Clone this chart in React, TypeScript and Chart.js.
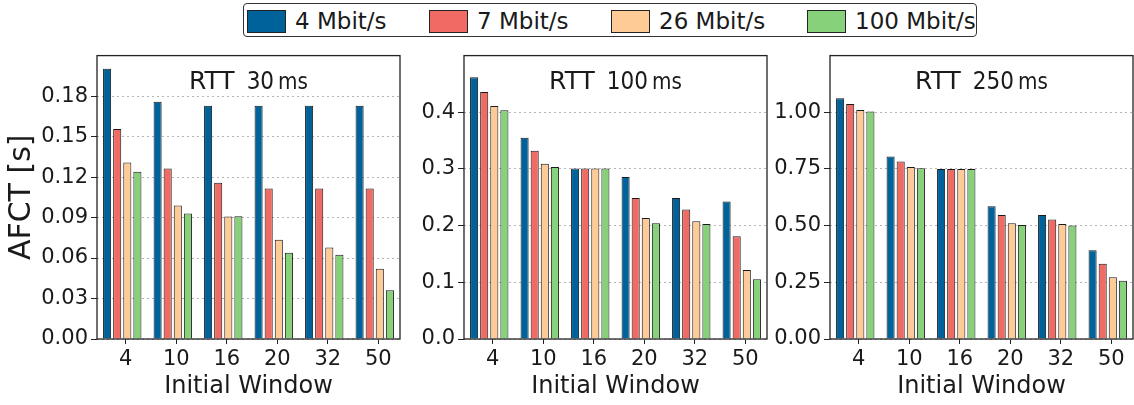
import React, { useEffect, useRef } from "react";
import { Chart, registerables } from "chart.js";

Chart.register(...registerables);
Chart.defaults.font.family = "'DejaVu Sans', sans-serif";

// ---------- data ----------
const categories = ["4", "10", "16", "20", "32", "50"];
const seriesLabels = ["4 Mbit/s", "7 Mbit/s", "26 Mbit/s", "100 Mbit/s"];
const seriesColors = ["#00629b", "#f06b64", "#fecb96", "#88d17b"];
const rttLabels = ["30", "100", "250"];

const rtt30Mbit4 = [0.2003, 0.1758, 0.1729, 0.1729, 0.1729, 0.1729];
const rtt30Mbit7 = [0.1557, 0.1264, 0.1157, 0.1116, 0.1116, 0.1116];
const rtt30Mbit26 = [0.1307, 0.099, 0.0908, 0.0736, 0.0678, 0.0521];
const rtt30Mbit100 = [0.124, 0.093, 0.091, 0.0639, 0.0625, 0.0361];

const rtt100Mbit4 = [0.462, 0.355, 0.301, 0.2856, 0.2488, 0.2424];
const rtt100Mbit7 = [0.4357, 0.3322, 0.301, 0.2488, 0.2286, 0.1815];
const rtt100Mbit26 = [0.411, 0.3092, 0.301, 0.2136, 0.2079, 0.1217];
const rtt100Mbit100 = [0.4034, 0.3034, 0.301, 0.204, 0.2028, 0.1056];

const rtt250Mbit4 = [1.062, 0.805, 0.75, 0.585, 0.547, 0.391];
const rtt250Mbit7 = [1.036, 0.783, 0.75, 0.547, 0.527, 0.332];
const rtt250Mbit26 = [1.01, 0.759, 0.75, 0.511, 0.507, 0.272];
const rtt250Mbit100 = [1.003, 0.753, 0.75, 0.503, 0.501, 0.257];

const yTicks30 = [0, 0.03, 0.06, 0.09, 0.12, 0.15, 0.18];
const yTicks100 = [0, 0.1, 0.2, 0.3, 0.4];
const yTicks250 = [0, 0.25, 0.5, 0.75, 1.0];
const yMaxes = [0.21, 0.5, 1.25];
const yDecimals = [2, 1, 2];

const panelSeries = [
  [rtt30Mbit4, rtt30Mbit7, rtt30Mbit26, rtt30Mbit100],
  [rtt100Mbit4, rtt100Mbit7, rtt100Mbit26, rtt100Mbit100],
  [rtt250Mbit4, rtt250Mbit7, rtt250Mbit26, rtt250Mbit100],
];
const panelTicks = [yTicks30, yTicks100, yTicks250];

// ---------- layout ----------
const layouts = [
  { left: 0, width: 410, yWidth: 97, padRight: 10 },
  { left: 410, width: 360, yWidth: 54, padRight: 3 },
  { left: 770, width: 364, yWidth: 60, padRight: 1 },
];
const tickShift = 0.07;
const ink = "#1a1a1a";

const framePlugin = {
  id: "frame",
  afterDatasetsDraw(chart: any) {
    const { ctx, chartArea: a } = chart;
    ctx.save();
    ctx.strokeStyle = "#222";
    ctx.lineWidth = 1.3;
    ctx.strokeRect(a.left, a.top, a.right - a.left, a.bottom - a.top);
    ctx.restore();
  },
};

function makeTitlePlugin(rtt: string) {
  return {
    id: "rttTitle",
    afterDraw(chart: any) {
      const { ctx, chartArea: a } = chart;
      const parts = [
        { t: "RTT", f: "25px 'DejaVu Sans'", sx: 1, gap: 12 },
        { t: rtt, f: "24px 'DejaVu Sans'", sx: 0.9, gap: 4 },
        { t: "ms", f: "23px 'DejaVu Sans'", sx: 0.87, gap: 0 },
      ];
      ctx.save();
      let total = 0;
      const widths = parts.map((p) => {
        ctx.font = p.f;
        const w = ctx.measureText(p.t).width * p.sx;
        total += w + p.gap;
        return w;
      });
      let x = (a.left + a.right) / 2 - total / 2;
      const y = a.top + 33;
      ctx.fillStyle = ink;
      ctx.textBaseline = "alphabetic";
      ctx.textAlign = "left";
      parts.forEach((p, i) => {
        ctx.font = p.f;
        ctx.save();
        ctx.translate(x, y);
        ctx.scale(p.sx, 1);
        ctx.fillText(p.t, 0, 0);
        ctx.restore();
        x += widths[i] + p.gap;
      });
      ctx.restore();
    },
  };
}

function Panel({ idx }: { idx: number }) {
  const ref = useRef<HTMLCanvasElement>(null);
  const lay = layouts[idx];
  useEffect(() => {
    const series = panelSeries[idx];
    const yt = panelTicks[idx];
    const dec = yDecimals[idx];
    const chart = new Chart(ref.current as HTMLCanvasElement, {
      type: "bar",
      data: {
        labels: categories,
        datasets: seriesLabels.map((l, s) => ({
          label: l,
          data: series[s],
          backgroundColor: seriesColors[s],
          borderColor: ink,
          borderWidth: 1,
          barPercentage: 0.8,
          categoryPercentage: 0.8,
        })),
      },
      options: {
        animation: false,
        responsive: false,
        devicePixelRatio: 1,
        layout: { padding: { left: 0, right: lay.padRight, top: 10, bottom: 0 } },
        plugins: {
          legend: { display: false },
          tooltip: { enabled: false },
          title: { display: false },
        },
        scales: {
          x: { type: "category", display: false, offset: true },
          xt: {
            type: "linear",
            position: "bottom",
            offset: false,
            min: -0.5,
            max: 5.5,
            afterBuildTicks: (s: any) => {
              s.ticks = categories.map((_, i) => ({ value: i + tickShift }));
            },
            afterFit: (s: any) => {
              s.height = 66;
            },
            ticks: {
              autoSkip: false,
              maxRotation: 0,
              callback: (_v: any, i: number) => categories[i],
              font: { size: 21 },
              color: ink,
              padding: 3,
            },
            grid: {
              offset: false,
              drawOnChartArea: false,
              drawTicks: true,
              tickLength: 5,
              tickColor: "#222",
              tickWidth: 1,
            },
            border: { display: false },
            title: {
              display: true,
              text: "Initial Window",
              font: { size: 24 },
              color: ink,
              padding: { top: 0, bottom: 4 },
            },
          },
          y: {
            min: 0,
            max: yMaxes[idx],
            afterBuildTicks: (s: any) => {
              s.ticks = yt.map((v) => ({ value: v }));
            },
            afterFit: (s: any) => {
              s.width = lay.yWidth;
            },
            ticks: {
              callback: (v: any) => Number(v).toFixed(dec),
              font: { size: 21 },
              color: ink,
              padding: 3,
            },
            grid: {
              color: "#b5b5b5",
              lineWidth: 1,
              tickLength: 6,
              tickColor: "#222",
              tickWidth: 1,
            },
            border: { display: false, dash: [2, 3] },
            title:
              idx === 0
                ? {
                    display: true,
                    text: "AFCT [s]",
                    font: { size: 30 },
                    color: ink,
                    padding: { top: 4, bottom: 0 },
                  }
                : { display: false },
          },
        },
      } as any,
      plugins: [framePlugin, makeTitlePlugin(rttLabels[idx])],
    });
    return () => chart.destroy();
  }, []);
  return (
    <canvas
      ref={ref}
      width={lay.width}
      height={365}
      style={{ position: "absolute", left: lay.left, top: 40, width: lay.width, height: 365 }}
    />
  );
}

const legendX = [247, 429, 611, 807];

function Legend() {
  return (
    <>
      <div
        style={{
          position: "absolute",
          left: 243,
          top: 3,
          width: 734,
          height: 34,
          boxSizing: "border-box",
          border: "1.5px solid #333",
          borderRadius: 4,
          background: "#fff",
        }}
      />
      {seriesLabels.map((l, i) => (
        <React.Fragment key={l}>
          <div
            style={{
              position: "absolute",
              left: legendX[i],
              top: 10,
              width: 39,
              height: 23,
              boxSizing: "border-box",
              border: "1px solid #222",
              background: seriesColors[i],
            }}
          />
          <div
            style={{
              position: "absolute",
              left: legendX[i] + 48,
              top: 9,
              height: 24,
              lineHeight: "24px",
              fontSize: 23,
              fontFamily: "'DejaVu Sans', sans-serif",
              color: ink,
              whiteSpace: "nowrap",
            }}
          >
            {l}
          </div>
        </React.Fragment>
      ))}
    </>
  );
}

export default function App() {
  return (
    <div
      style={{
        position: "absolute",
        left: 0,
        top: 0,
        width: 1134,
        height: 405,
        background: "#fff",
        overflow: "hidden",
      }}
    >
      <Panel idx={0} />
      <Panel idx={1} />
      <Panel idx={2} />
      <Legend />
    </div>
  );
}
